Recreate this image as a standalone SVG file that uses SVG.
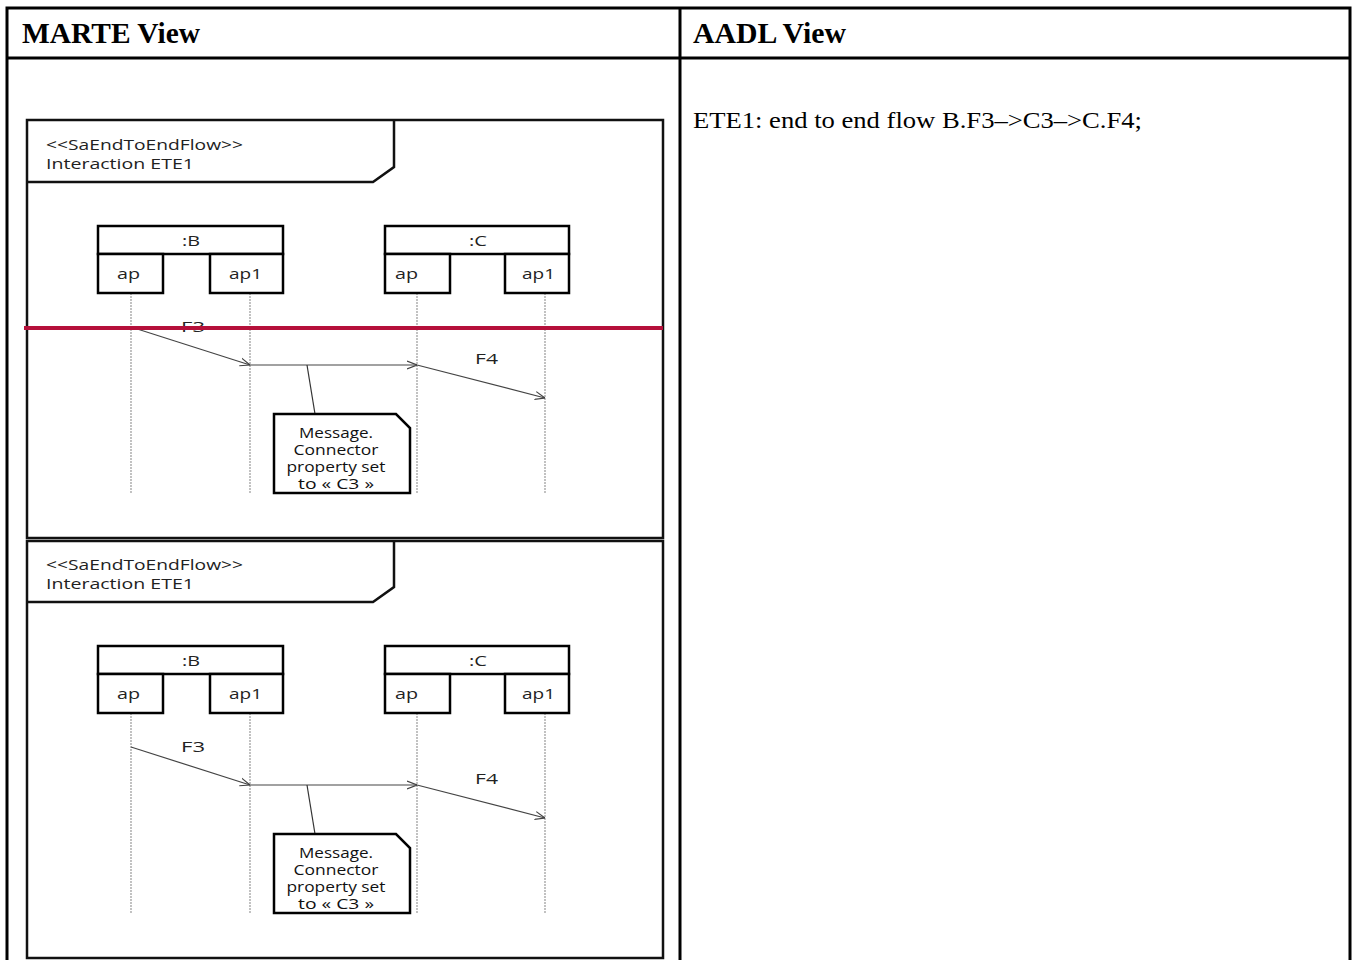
<svg xmlns="http://www.w3.org/2000/svg" width="1356" height="960" viewBox="0 0 1356 960">
<style>
.tbl{stroke:#000;stroke-width:3;fill:none}
.hdr{font-family:"Liberation Serif",serif;font-weight:bold;font-size:29px;fill:#000}
.body{font-family:"Liberation Serif",serif;font-size:24px;fill:#000}
.frame{stroke:#111;stroke-width:2.5;fill:none}
.box{stroke:#000;stroke-width:2.5;fill:#fff}
.lbl{font-family:"Open Sans","DejaVu Sans",sans-serif;font-size:15px;fill:#222}
.stereo{font-family:"Open Sans","DejaVu Sans",sans-serif;font-size:15px;fill:#222}
.note{font-family:"Open Sans","DejaVu Sans",sans-serif;font-size:14px;fill:#111;text-anchor:middle}
.life{stroke:#999;stroke-width:1.2;stroke-dasharray:2,1;fill:none}
.msg{stroke:#444;stroke-width:1.2;fill:none;marker-end:url(#open)}
.link{stroke:#333;stroke-width:1.2;fill:none}
</style>
<defs>
<marker id="open" viewBox="0 0 10 10" refX="10" refY="5" markerWidth="10" markerHeight="10" markerUnits="userSpaceOnUse" orient="auto">
<path d="M0,1 L10,5 L0,9" fill="none" stroke="#444" stroke-width="1.2"/>
</marker>
</defs>
<rect width="1356" height="960" fill="#fff"/>
<g id="table">
<path class="tbl" d="M7,970 V8 H1350 V970 M7,58 H1350 M680,8 V970"/>
<text class="hdr" x="22" y="43" textLength="178" lengthAdjust="spacingAndGlyphs">MARTE View</text>
<text class="hdr" x="693" y="43" textLength="153" lengthAdjust="spacingAndGlyphs">AADL View</text>
<text class="body" x="693" y="128" textLength="449" lengthAdjust="spacingAndGlyphs">ETE1: end to end flow B.F3–&gt;C3–&gt;C.F4;</text>
</g>
<g id="panel1">
<g id="frame1">
<rect class="frame" x="27" y="120" width="636" height="418"/>
<path class="frame" d="M27,182 H373 L394,167 V120"/>
<text class="stereo" x="46" y="150" textLength="197" lengthAdjust="spacingAndGlyphs">&lt;&lt;SaEndToEndFlow&gt;&gt;</text>
<text class="stereo" x="46" y="169" textLength="148" lengthAdjust="spacingAndGlyphs">Interaction ETE1</text>
</g>
<g id="lifelines1">
<line class="life" x1="131" y1="293" x2="131" y2="494"/>
<line class="life" x1="250" y1="293" x2="250" y2="494"/>
<line class="life" x1="417" y1="293" x2="417" y2="494"/>
<line class="life" x1="545" y1="293" x2="545" y2="494"/>
</g>
<g id="B1">
<rect class="box" x="98" y="226" width="185" height="28"/>
<rect class="box" x="98" y="254" width="65" height="39"/>
<rect class="box" x="210" y="254" width="73" height="39"/>
<text class="lbl" x="182" y="246" textLength="18" lengthAdjust="spacingAndGlyphs">:B</text>
<text class="lbl" x="117" y="279" textLength="23" lengthAdjust="spacingAndGlyphs">ap</text>
<text class="lbl" x="229" y="279" textLength="33" lengthAdjust="spacingAndGlyphs">ap1</text>
</g>
<g id="C1">
<rect class="box" x="385" y="226" width="184" height="28"/>
<rect class="box" x="385" y="254" width="65" height="39"/>
<rect class="box" x="505" y="254" width="64" height="39"/>
<text class="lbl" x="469" y="246" textLength="18" lengthAdjust="spacingAndGlyphs">:C</text>
<text class="lbl" x="395" y="279" textLength="23" lengthAdjust="spacingAndGlyphs">ap</text>
<text class="lbl" x="522" y="279" textLength="33" lengthAdjust="spacingAndGlyphs">ap1</text>
</g>
<g id="connectors1">
<line class="msg" x1="131" y1="327" x2="250" y2="365"/>
<line class="msg" x1="250" y1="365" x2="417" y2="365"/>
<line class="msg" x1="417" y1="365" x2="545" y2="398"/>
<line class="link" x1="307" y1="365" x2="315" y2="414"/>
<text class="lbl" x="181" y="332" textLength="24" lengthAdjust="spacingAndGlyphs">F3</text>
<text class="lbl" x="475" y="364" textLength="23" lengthAdjust="spacingAndGlyphs">F4</text>
</g>
<g id="note1">
<path class="box" d="M274,414 H396 L410,428 V493 H274 Z"/>
<text class="note" x="336" y="438" textLength="74" lengthAdjust="spacingAndGlyphs">Message.</text>
<text class="note" x="336" y="455" textLength="85" lengthAdjust="spacingAndGlyphs">Connector</text>
<text class="note" x="336" y="472" textLength="99" lengthAdjust="spacingAndGlyphs">property set</text>
<text class="note" x="336" y="489" textLength="76" lengthAdjust="spacingAndGlyphs">to «  C3 »</text>
</g>
</g>
<g id="panel2" transform="translate(0,420)">
<g id="frame2">
<rect class="frame" x="27" y="121" width="636" height="417"/>
<path class="frame" d="M27,182 H373 L394,167 V121"/>
<text class="stereo" x="46" y="150" textLength="197" lengthAdjust="spacingAndGlyphs">&lt;&lt;SaEndToEndFlow&gt;&gt;</text>
<text class="stereo" x="46" y="169" textLength="148" lengthAdjust="spacingAndGlyphs">Interaction ETE1</text>
</g>
<g id="lifelines2">
<line class="life" x1="131" y1="293" x2="131" y2="494"/>
<line class="life" x1="250" y1="293" x2="250" y2="494"/>
<line class="life" x1="417" y1="293" x2="417" y2="494"/>
<line class="life" x1="545" y1="293" x2="545" y2="494"/>
</g>
<g id="B2">
<rect class="box" x="98" y="226" width="185" height="28"/>
<rect class="box" x="98" y="254" width="65" height="39"/>
<rect class="box" x="210" y="254" width="73" height="39"/>
<text class="lbl" x="182" y="246" textLength="18" lengthAdjust="spacingAndGlyphs">:B</text>
<text class="lbl" x="117" y="279" textLength="23" lengthAdjust="spacingAndGlyphs">ap</text>
<text class="lbl" x="229" y="279" textLength="33" lengthAdjust="spacingAndGlyphs">ap1</text>
</g>
<g id="C2">
<rect class="box" x="385" y="226" width="184" height="28"/>
<rect class="box" x="385" y="254" width="65" height="39"/>
<rect class="box" x="505" y="254" width="64" height="39"/>
<text class="lbl" x="469" y="246" textLength="18" lengthAdjust="spacingAndGlyphs">:C</text>
<text class="lbl" x="395" y="279" textLength="23" lengthAdjust="spacingAndGlyphs">ap</text>
<text class="lbl" x="522" y="279" textLength="33" lengthAdjust="spacingAndGlyphs">ap1</text>
</g>
<g id="connectors2">
<line class="msg" x1="131" y1="327" x2="250" y2="365"/>
<line class="msg" x1="250" y1="365" x2="417" y2="365"/>
<line class="msg" x1="417" y1="365" x2="545" y2="398"/>
<line class="link" x1="307" y1="365" x2="315" y2="414"/>
<text class="lbl" x="181" y="332" textLength="24" lengthAdjust="spacingAndGlyphs">F3</text>
<text class="lbl" x="475" y="364" textLength="23" lengthAdjust="spacingAndGlyphs">F4</text>
</g>
<g id="note2">
<path class="box" d="M274,414 H396 L410,428 V493 H274 Z"/>
<text class="note" x="336" y="438" textLength="74" lengthAdjust="spacingAndGlyphs">Message.</text>
<text class="note" x="336" y="455" textLength="85" lengthAdjust="spacingAndGlyphs">Connector</text>
<text class="note" x="336" y="472" textLength="99" lengthAdjust="spacingAndGlyphs">property set</text>
<text class="note" x="336" y="489" textLength="76" lengthAdjust="spacingAndGlyphs">to «  C3 »</text>
</g>
</g>
<line id="redline" x1="24" y1="328" x2="663" y2="328" stroke="#b5103a" stroke-width="4"/>
</svg>
